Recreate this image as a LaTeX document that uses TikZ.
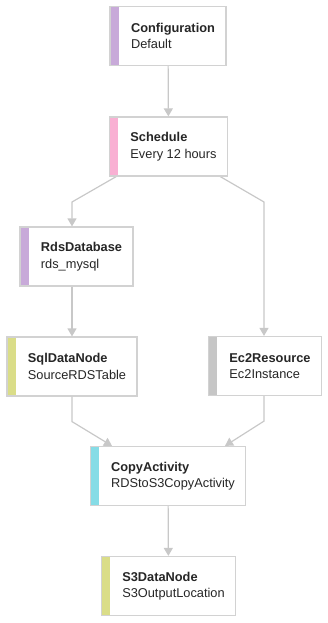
\documentclass[tikz,border=0pt]{standalone}
\usepackage{fontspec}
\setmainfont{Liberation Sans}
\usepackage{tikz}
\usetikzlibrary{arrows.meta,positioning,backgrounds}
\definecolor{linkgray}{HTML}{C8C8C8}
\definecolor{boxgray}{HTML}{D2D2D2}
\definecolor{textdark}{HTML}{262626}
\definecolor{barpurple}{HTML}{C8AAD9}
\definecolor{barpink}{HTML}{F9B0D3}
\definecolor{baryellow}{HTML}{DADD88}
\definecolor{bargray}{HTML}{C6C6C6}
\definecolor{barcyan}{HTML}{86DCE6}
\newcommand{\boxlabel}[2]{\hspace*{10pt}\textbf{#1}\\\hspace*{10pt}#2}

\begin{document}
\begin{tikzpicture}[
    x=1pt, y=-1pt,
    box/.style={rectangle, draw=boxgray, line width=1.2pt, fill=white,
        minimum height=59pt, inner xsep=11pt, align=left, text=textdark,
        font=\fontsize{12.8}{16.5}\selectfont,
        path picture={\fill[#1] (path picture bounding box.north west)
            rectangle ([xshift=9pt]path picture bounding box.south west);}},
    link/.style={draw=linkgray, line width=1.2pt},
    arrow/.style={link, -{Triangle[length=8pt, width=9pt]}}
]
    \useasboundingbox (0,0) rectangle (327,623);
    \node[box=barpurple] (config) at (168,36) {\boxlabel{Configuration}{Default}};
    \node[box=barpink] (sched) at (168.5,146.5) {\boxlabel{Schedule}{Every 12 hours}};
    \node[box=barpurple] (rds) at (76.5,256.5) {\boxlabel{RdsDatabase}{rds\_mysql}};
    \node[box=baryellow] (sql) at (72,366.5) {\boxlabel{SqlDataNode}{SourceRDSTable}};
    \node[box=bargray] (ec2) at (265,366) {\boxlabel{Ec2Resource}{Ec2Instance}};
    \node[box=barcyan] (copy) at (168,476) {\boxlabel{CopyActivity}{RDStoS3CopyActivity}};
    \node[box=baryellow] (s3) at (168.5,586) {\boxlabel{S3DataNode}{S3OutputLocation}};

    \coordinate (splitl) at (72,202);
    \coordinate (splitr) at (264,202);

    \begin{scope}[on background layer]
        \draw[arrow] (sched.center) -- (splitl) -- (splitl |- rds.north);
        \draw[arrow] (sched.center) -- (splitr) -- (splitr |- ec2.north);
    \end{scope}
    \draw[arrow] (config) -- (sched);
    \draw[arrow] (rds.south -| sql.north) -- (sql.north);
    \draw[arrow] (sql.south) -- ++(0,25) -- ([xshift=-56pt]copy.north);
    \draw[arrow] (splitr |- ec2.south) -- ++(0,25) -- ([xshift=57pt]copy.north);
    \draw[arrow] (copy) -- (s3);
\end{tikzpicture}
\end{document}
